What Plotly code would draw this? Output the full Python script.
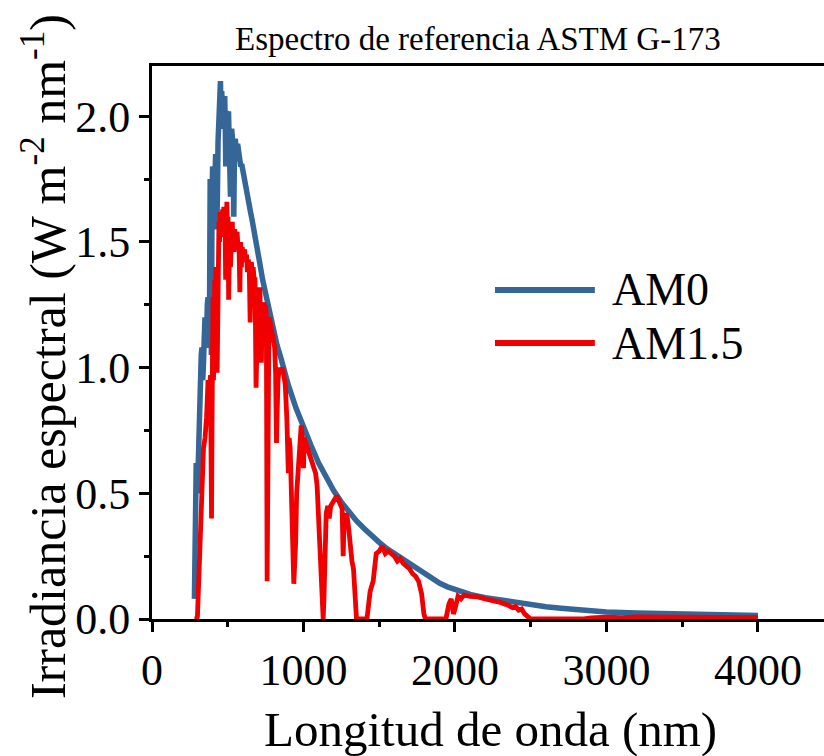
import plotly.graph_objects as go

# ---------------- data ----------------
am0_wl = [280, 284, 288, 292, 296, 300, 304, 308, 312, 316, 320, 325, 330, 335, 340,
          345, 350, 355, 360, 365, 370, 375, 380, 384, 388, 392, 396, 400, 404, 408,
          412, 416, 420, 424, 428, 432, 436, 440, 444, 448, 452, 456, 460, 464, 468,
          472, 476, 480, 484, 487, 490, 495, 500, 505, 510, 515, 518, 522, 526, 530,
          535, 540, 545, 550, 555, 560, 565, 570, 575, 580, 586, 592, 600, 610, 620,
          630, 640, 650, 660, 670, 680, 695, 710, 730, 750, 775, 800, 825, 850, 875,
          900, 950, 1000, 1050, 1100, 1150, 1200, 1250, 1300, 1350, 1400, 1450, 1500, 1550,
          1600, 1650, 1700, 1750, 1800, 1850, 1900, 1950, 2000, 2100, 2200, 2300, 2400, 2500,
          2600, 2700, 2800, 2900, 3000, 3200, 3400, 3600, 3800, 4000]
am0_val = [0.08, 0.25, 0.50, 0.62, 0.55, 0.50, 0.62, 0.72, 0.68, 0.85, 0.98, 1.05, 1.08, 0.95, 1.02,
           1.12, 1.20, 1.08, 1.10, 1.25, 1.28, 1.15, 1.25, 1.75, 1.20, 1.05, 1.65, 1.80, 1.72, 1.78,
           1.65, 1.82, 1.85, 1.75, 1.55, 1.70, 1.90, 1.95, 2.08, 2.12, 2.14, 1.95, 2.10, 2.05, 1.98,
           2.07, 2.02, 2.08, 1.95, 1.80, 2.02, 2.00, 1.98, 2.02, 1.90, 1.80, 1.68, 1.85, 1.95, 1.92,
           1.85, 1.60, 1.90, 1.91, 1.86, 1.85, 1.89, 1.87, 1.84, 1.85, 1.80, 1.81, 1.78, 1.76, 1.72,
           1.69, 1.66, 1.62, 1.59, 1.56, 1.53, 1.47, 1.42, 1.35, 1.29, 1.22, 1.15, 1.09, 1.04, 0.98,
           0.93, 0.84, 0.76, 0.69, 0.62, 0.56, 0.51, 0.465, 0.425, 0.39, 0.36, 0.33, 0.305, 0.28,
           0.26, 0.24, 0.22, 0.20, 0.178, 0.158, 0.142, 0.128, 0.117, 0.098, 0.085, 0.075, 0.065, 0.056,
           0.049, 0.043, 0.037, 0.032, 0.028, 0.024, 0.021, 0.018, 0.016, 0.014]

am15_wl = [280, 295, 300, 305, 310, 315, 320, 330, 340, 350, 360, 370, 380, 386, 390,
           393, 396, 400, 403, 406, 410, 414, 418, 422, 426, 430, 434, 438, 442, 446,
           450, 454, 458, 462, 466, 470, 474, 478, 482, 486, 490, 494, 498, 502, 506,
           510, 514, 518, 522, 526, 530, 534, 538, 542, 546, 550, 556, 562, 568, 574,
           580, 585, 590, 595, 600, 606, 612, 618, 624, 630, 636, 642, 648, 652, 656,
           662, 668, 674, 680, 687, 690, 695, 700, 706, 712, 718, 722, 726, 732, 738,
           744, 750, 755, 760, 763, 767, 772, 780, 790, 800, 810, 816, 822, 826, 832,
           840, 850, 860, 870, 880, 890, 895, 900, 905, 912, 918, 925, 930, 936, 942,
           948, 955, 962, 970, 978, 985, 992, 1000, 1005, 1020, 1040, 1060, 1080, 1090, 1100,
           1110, 1120, 1130, 1135, 1140, 1150, 1160, 1170, 1180, 1200, 1220, 1240, 1255, 1262,
           1268, 1280, 1290, 1300, 1310, 1320, 1330, 1340, 1350, 1400, 1420, 1440, 1460, 1480,
           1500, 1520, 1540, 1560, 1580, 1600, 1620, 1640, 1660, 1680, 1700, 1720, 1740, 1760,
           1780, 1795, 1805, 1940, 1960, 1975, 1990, 2000, 2020, 2040, 2060, 2100, 2150, 2200,
           2250, 2300, 2350, 2380, 2400, 2420, 2440, 2460, 2490, 2500, 2850, 2900, 3000, 3100,
           3200, 3300, 3400, 3500, 3600, 3700, 3800, 3900, 4000]
am15_val = [0.0, 0.0, 0.01, 0.09, 0.20, 0.35, 0.45, 0.62, 0.68, 0.72, 0.80, 0.95, 0.90, 0.97, 0.60,
            0.40, 0.75, 1.10, 1.28, 0.95, 1.25, 1.35, 1.15, 1.40, 1.30, 0.98, 1.50, 1.45, 1.58, 1.50,
            1.62, 1.55, 1.60, 1.52, 1.63, 1.58, 1.64, 1.57, 1.62, 1.35, 1.58, 1.66, 1.55, 1.60, 1.27,
            1.52, 1.58, 1.40, 1.57, 1.52, 1.58, 1.50, 1.55, 1.46, 1.55, 1.53, 1.48, 1.54, 1.47, 1.50,
            1.30, 1.50, 1.40, 1.48, 1.46, 1.43, 1.47, 1.42, 1.45, 1.38, 1.43, 1.40, 1.18, 1.35, 1.42,
            1.38, 1.40, 1.35, 1.36, 0.92, 1.05, 1.22, 1.30, 1.26, 1.32, 1.10, 1.02, 1.18, 1.12, 1.26,
            1.22, 1.25, 1.20, 0.15, 0.45, 0.90, 1.20, 1.18, 1.15, 1.12, 1.08, 0.98, 0.70, 0.82, 0.95,
            1.00, 0.98, 1.00, 0.97, 0.93, 0.80, 0.62, 0.58, 0.72, 0.68, 0.55, 0.40, 0.20, 0.14, 0.22,
            0.30, 0.50, 0.58, 0.68, 0.74, 0.77, 0.72, 0.60, 0.72, 0.69, 0.66, 0.62, 0.58, 0.53, 0.40,
            0.22, 0.05, 0.0, 0.08, 0.20, 0.42, 0.45, 0.40, 0.45, 0.47, 0.49, 0.46, 0.44, 0.25,
            0.40, 0.42, 0.40, 0.35, 0.28, 0.23, 0.20, 0.10, 0.0, 0.0, 0.005, 0.11, 0.15, 0.26,
            0.27, 0.29, 0.26, 0.27, 0.26, 0.25, 0.23, 0.24, 0.22, 0.21, 0.20, 0.18, 0.17, 0.15,
            0.10, 0.02, 0.0, 0.0, 0.06, 0.08, 0.02, 0.04, 0.09, 0.08, 0.095, 0.09, 0.088, 0.08,
            0.075, 0.066, 0.055, 0.045, 0.05, 0.035, 0.04, 0.02, 0.005, 0.0, 0.0, 0.004, 0.007, 0.005,
            0.008, 0.007, 0.008, 0.007, 0.008, 0.007, 0.006, 0.006, 0.006]

x_ticks = [0, 1000, 2000, 3000, 4000]
y_ticks = [0.0, 0.5, 1.0, 1.5, 2.0]
y_tick_text = ["0.0", "0.5", "1.0", "1.5", "2.0"]
series_names = ["AM0", "AM1.5"]

BLUE = "rgb(52,102,152)"
RED = "rgb(240,0,0)"
FONT = "Liberation Serif, Times New Roman, serif"

fig = go.Figure()
fig.add_trace(go.Scatter(x=am0_wl, y=am0_val, mode="lines", name=series_names[0],
                         line=dict(color=BLUE, width=5.5), showlegend=False))
fig.add_trace(go.Scatter(x=am15_wl, y=am15_val, mode="lines", name=series_names[1],
                         line=dict(color=RED, width=4.8), showlegend=False))

axis_common = dict(showline=True, linecolor="black", linewidth=3, ticks="outside",
                   tickwidth=3, tickcolor="black", ticklen=10, showgrid=False, zeroline=False,
                   tickfont=dict(family=FONT, size=44, color="black"))

fig.update_xaxes(range=[0, 4436], tickvals=x_ticks, mirror=True,
                 minor=dict(ticks="outside", dtick=500, tick0=0, ticklen=5, tickwidth=3,
                            tickcolor="black", showgrid=False),
                 **axis_common)
fig.update_yaxes(range=[0, 2.2], tickvals=y_ticks, ticktext=y_tick_text, mirror=False,
                 minor=dict(ticks="outside", dtick=0.25, tick0=0, ticklen=5, tickwidth=3,
                            tickcolor="black", showgrid=False),
                 **axis_common)

annotations = [
    dict(text="Espectro de referencia ASTM G-173", xref="paper", yref="paper",
         x=0.485, y=1.049, xanchor="center", yanchor="middle", showarrow=False,
         font=dict(family=FONT, size=33, color="black")),
    dict(text="Longitud de onda (nm)", xref="paper", yref="paper",
         x=0.503, y=-0.199, xanchor="center", yanchor="middle", showarrow=False,
         font=dict(family=FONT, size=49, color="black")),
    dict(text="Irradiancia espectral (W m<sup>-2</sup> nm<sup>-1</sup>)", xref="paper", yref="paper",
         x=-0.159, y=0.474, xanchor="center", yanchor="middle", textangle=-90, showarrow=False,
         font=dict(family=FONT, size=50, color="black")),
]
# custom legend (long line samples as in the reference)
leg_y = [0.595, 0.499]
leg_col = [BLUE, RED]
shapes = []
for name, yy, col in zip(series_names, leg_y, leg_col):
    shapes.append(dict(type="line", xref="paper", yref="paper", x0=0.5104, x1=0.659,
                       y0=yy, y1=yy, line=dict(color=col, width=6)))
    annotations.append(dict(text=name, xref="paper", yref="paper", x=0.6815, y=yy,
                            xanchor="left", yanchor="middle", showarrow=False,
                            font=dict(family=FONT, size=46, color="black")))

fig.update_layout(width=824, height=756, margin=dict(l=152, r=0, t=66, b=137),
                  plot_bgcolor="white", paper_bgcolor="white",
                  annotations=annotations, shapes=shapes, showlegend=False)

fig.write_html("out.html")
